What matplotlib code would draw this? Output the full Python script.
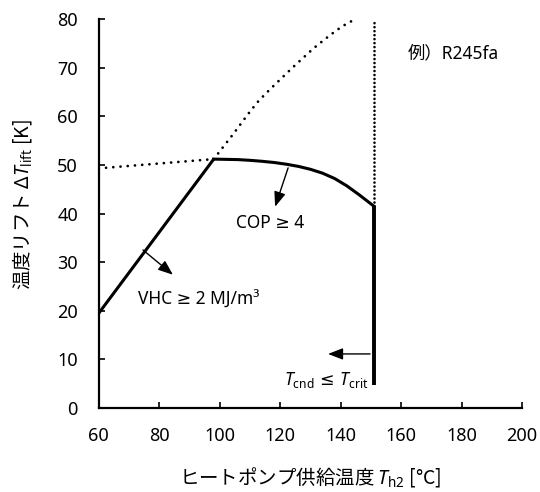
import numpy as np
import matplotlib
matplotlib.use("Agg")
import matplotlib.pyplot as plt

plt.rcParams['font.family'] = ['Noto Sans', 'DejaVu Sans', 'Noto Sans CJK JP']
plt.rcParams['mathtext.fontset'] = 'custom'
plt.rcParams['mathtext.rm'] = 'Noto Sans'
plt.rcParams['mathtext.it'] = 'Noto Sans:italic'

# -------------------- data --------------------
# lower dotted boundary (left of the knee)
low_x = [60, 70, 80, 90, 98]
low_y = [49.3, 49.8, 50.3, 50.8, 51.2]
# upper dotted boundary (right of the knee)
up_x = [98, 101, 104, 107, 110, 113, 117, 120, 124, 127.5, 131, 135, 138.8, 142, 145.5]
up_y = [51.2, 53.6, 56.0, 58.5, 61.0, 63.3, 65.8, 67.6, 70.0, 72.0, 74.0, 76.0, 77.8, 79.1, 80.2]
# VHC limit (solid straight line)
vhc_x = [60, 98]
vhc_y = [19.5, 51.2]
# COP limit (solid curve)
cop_x = [98, 102, 106, 110, 114, 118, 122, 126, 130, 134, 138, 142, 146, 151]
cop_y = [51.2, 51.15, 51.1, 50.95, 50.75, 50.5, 50.15, 49.7, 49.1, 48.3, 47.2, 45.7, 43.9, 41.5]
# critical temperature limit
crit_x = 151
crit_solid = [41.5, 4.8]
crit_dot = [41.5, 80]

x_ticks = [60, 80, 100, 120, 140, 160, 180, 200]
y_ticks = [0, 10, 20, 30, 40, 50, 60, 70, 80]

# -------------------- plot --------------------
fig = plt.figure(figsize=(5.4, 4.92), dpi=100)
ax = fig.add_axes([0.183, 0.171, 0.784, 0.790])

dots = dict(color='black', lw=2.0, ls=(0, (0.01, 2.6)), dash_capstyle='round')
ax.plot(low_x, low_y, **dots)
ax.plot(up_x, up_y, **dots)
ax.plot([crit_x, crit_x], crit_dot, color='black', lw=1.9, ls=(0, (0.01, 1.5)), dash_capstyle='round')
ax.plot(vhc_x, vhc_y, color='black', lw=2.2, solid_capstyle='butt')
ax.plot(cop_x, cop_y, color='black', lw=2.2)
ax.plot([crit_x, crit_x], crit_solid, color='black', lw=2.8, solid_capstyle='butt')

arrow = dict(arrowstyle='-|>,head_length=0.9,head_width=0.35', color='black', lw=1, shrinkA=0, shrinkB=0)
ax.annotate('', xy=(84.5, 27.4), xytext=(74.6, 32.5), arrowprops=arrow)
ax.annotate('', xy=(118.3, 41.4), xytext=(122.6, 49.4), arrowprops=arrow)
ax.annotate('', xy=(135.8, 11.1), xytext=(149.7, 11.1), arrowprops=arrow)

ax.text(105.4, 38, 'COP ≥ 4', fontsize=12.5, va='center', ha='left')
ax.text(73, 22.2, 'VHC ≥ 2 MJ/m³', fontsize=12.5, va='center', ha='left')
ax.text(162.3, 73, '例）R245fa', fontsize=12.5, va='center', ha='left')
ax.text(149.2, 5.8, r'$T_{\mathrm{cnd}}$ ≤ $T_{\mathrm{crit}}$', fontsize=12.5,
        va='center', ha='right', family=['DejaVu Sans'])

ax.set_xlim(60, 200)
ax.set_ylim(0, 80)
ax.set_xticks(x_ticks)
ax.set_yticks(y_ticks)
ax.tick_params(direction='in', length=4.5, width=1.2, labelsize=13)
ax.tick_params(axis='y', pad=15)
ax.tick_params(axis='x', pad=14)
for s in ['top', 'right']:
    ax.spines[s].set_visible(False)
for s in ['left', 'bottom']:
    ax.spines[s].set_linewidth(1.6)

cjk = ['Noto Sans CJK JP', 'Noto Sans']
ax.set_xlabel(r'ヒートポンプ供給温度 $T_{\mathrm{h2}}$ [°C]', fontsize=14, family=cjk)
ax.set_ylabel(r'温度リフト $\Delta T_{\mathrm{lift}}$ [K]', fontsize=14, family=cjk)
ax.xaxis.set_label_coords(0.5, -0.148)
ax.yaxis.set_label_coords(-0.154, 0.522)

fig.savefig('out.png', dpi=100)
